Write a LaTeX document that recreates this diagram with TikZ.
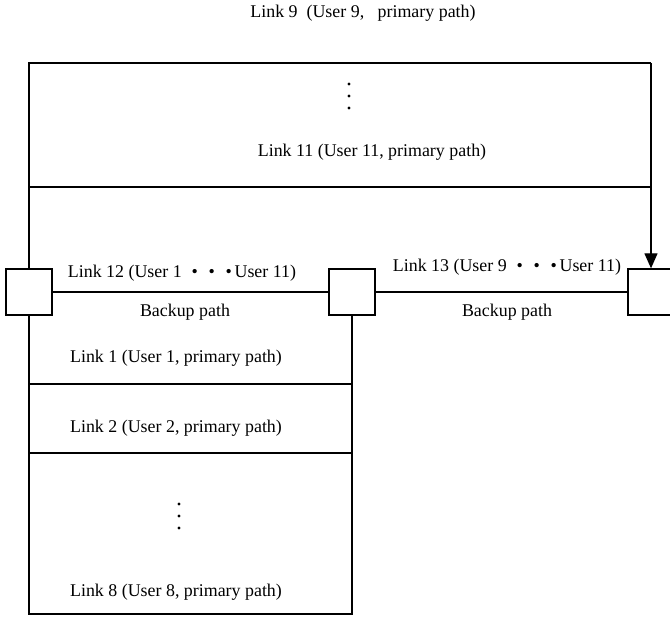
\documentclass[tikz,border=0pt]{standalone}
\usepackage{fontspec}
\setmainfont{Liberation Serif}
\usetikzlibrary{calc, positioning, arrows.meta}

\tikzset{
  switch/.style={draw, line width=1.3pt, minimum size=46pt, inner sep=0pt, fill=white},
  link/.style={line width=1.3pt},
  lbl/.style={inner sep=1pt},
}
\newcommand{\bdots}{\hspace{0.55em}\textbullet\hspace{0.6em}\textbullet\hspace{0.6em}\textbullet\hspace{0.15em}}

\begin{document}
\begin{tikzpicture}[x=1pt, y=-1pt, >={Triangle[length=15pt, width=13pt]},
    font=\fontsize{17.9}{20}\selectfont]
  \useasboundingbox (0,0) rectangle (670,617);

  % corners of the two link bundles
  \coordinate (tl) at (29,63);
  \coordinate (tr) at (651,63);
  \coordinate (ml) at (29,187);
  \coordinate (mr) at (651,187);
  \coordinate (bl) at (29,614);
  \coordinate (br) at (352,614);

  % upper bundle: links 9 .. 11
  \draw[link] (ml) -- (mr);
  \node[lbl] (l9) at (363,13) {Link 9\ \ (User 9,\ \ \ primary path)};
  \node[lbl] (l11) at (372,152) {Link 11 (User 11, primary path)};
  \foreach \y in {84,96,108}
    \fill (349,\y) circle (1.7);

  % lower bundle: links 1 .. 8
  \draw[link] (29,384) -- (352,384);
  \draw[link] (29,453) -- (352,453);
  \node[lbl] (l1) at (176,358) {Link 1 (User 1, primary path)};
  \node[lbl] (l2) at (176,428) {Link 2 (User 2, primary path)};
  \node[lbl] (l8) at (176,592) {Link 8 (User 8, primary path)};
  \foreach \y in {504,516,528}
    \fill (179,\y) circle (1.7);

  % switches and backup links
  \node[switch] (s1) at (29,292) {};
  \node[switch] (s2) at (352,292) {};
  \node[switch] (s3) at (651,292) {};

  \draw[link] (s1) -- (s2);
  \draw[link] (s2) -- (s3);
  \draw[link] (s1.north) -- (tl) -- (tr);
  \draw[link, ->] (tr) -- (s3.north);
  \draw[link] (s1.south) -- (bl) -- (br) -- (s2.south);

  \node[lbl] (l12) at (182,273) {Link 12 (User 1\bdots User 11)};
  \node[lbl] (l13) at (507,267) {Link 13 (User 9\bdots User 11)};
  \node[lbl] (b12) at (185,312) {Backup path};
  \node[lbl] (b13) at (507,312) {Backup path};
\end{tikzpicture}
\end{document}
